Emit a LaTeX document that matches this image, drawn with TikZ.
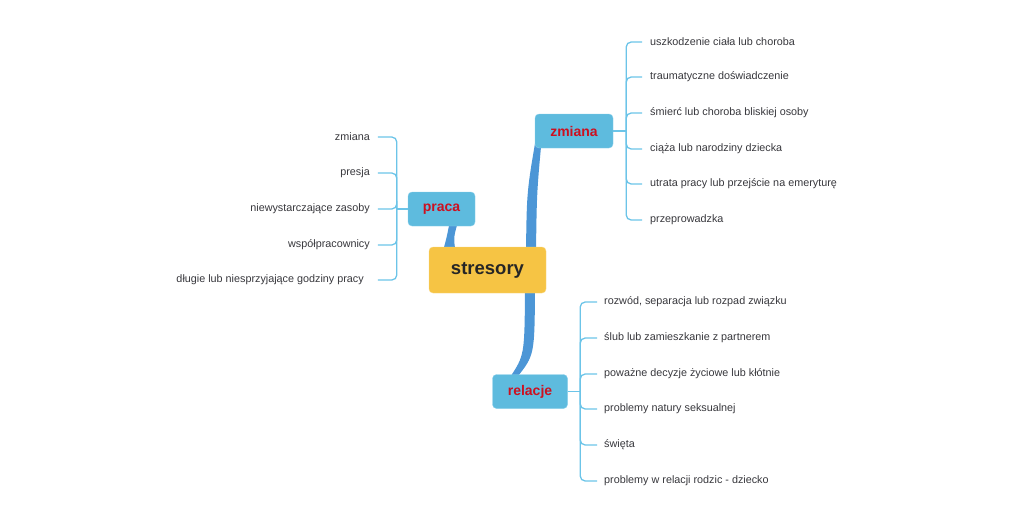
\documentclass[tikz,border=0pt]{standalone}
\usepackage{fontspec}
\setmainfont{Liberation Sans}
\usetikzlibrary{backgrounds}
\definecolor{boxblue}{RGB}{94,187,222}
\definecolor{boxedge}{RGB}{135,206,234}
\definecolor{trunkblue}{RGB}{76,150,214}
\definecolor{leafblue}{RGB}{108,196,232}
\definecolor{sunyellow}{RGB}{246,196,68}
\definecolor{topicred}{RGB}{204,16,32}
\definecolor{leafgray}{RGB}{55,55,60}
\tikzset{
  root/.style={rectangle, rounded corners=4pt, fill=sunyellow, draw=sunyellow!70!white,
               minimum width=117pt, minimum height=46pt, text=black!85,
               font=\fontsize{18.5}{20}\selectfont\bfseries},
  topic/.style={rectangle, rounded corners=4pt, fill=boxblue, draw=boxedge,
                minimum height=34pt, text=topicred, font=\fontsize{14}{16}\selectfont\bfseries},
  leaf/.style={inner sep=0pt, text=leafgray, font=\fontsize{10.8}{12}\selectfont},
  trunk/.style={fill=trunkblue},
  bracket/.style={draw=leafblue, line width=1.3pt, rounded corners=5pt},
}

\begin{document}
\begin{tikzpicture}[x=1pt,y=-1pt]
\useasboundingbox (0,0) rectangle (1024,523);

% main topic and its three branches
\node[root] (stresory) at (487.5,270) {stresory};
\node[topic, minimum width=78pt] (zmiana) at (574,131) {zmiana};
\node[topic, minimum width=67pt] (praca) at (441.5,209) {praca};
\node[topic, minimum width=75pt] (relacje) at (530,391.5) {relacje};

\begin{scope}[on background layer]
\fill[trunk] ([xshift=38.5,yshift=-4]stresory.north)
  .. controls ([xshift=-8,yshift=-60]zmiana.west) .. ([xshift=2,yshift=-2]zmiana.west)
  -- ([xshift=8,yshift=3]zmiana.west)
  .. controls ([xshift=2,yshift=-60]zmiana.west) .. ([xshift=48.5,yshift=-4]stresory.north) -- cycle;
\fill[trunk] ([xshift=-44.5,yshift=-4]stresory.north)
  .. controls ([xshift=5,yshift=-12]praca.south) .. ([xshift=8,yshift=3]praca.south)
  -- ([xshift=16,yshift=3]praca.south)
  .. controls ([xshift=12,yshift=-12]praca.south) .. ([xshift=-32,yshift=-4]stresory.north) -- cycle;
\fill[trunk] ([xshift=37.5,yshift=4]stresory.south)
  .. controls ([xshift=37,yshift=-62]stresory.south) .. ([xshift=-20,yshift=-3]relacje.north)
  -- ([xshift=-13,yshift=-3]relacje.north)
  .. controls ([xshift=47,yshift=-62]stresory.south) .. ([xshift=47.5,yshift=4]stresory.south) -- cycle;
\end{scope}

% zmiana
\coordinate (zm-b) at ([xshift=13]zmiana.east);
\coordinate (zm-t) at ([xshift=29]zmiana.east);
\foreach \y/\t [count=\i] in {42/uszkodzenie ciała lub choroba, 77/traumatyczne doświadczenie,
    113/śmierć lub choroba bliskiej osoby, 149/ciąża lub narodziny dziecka,
    184/utrata pracy lub przejście na emeryturę, 220/przeprowadzka}
  \node[leaf, anchor=west] (zm-\i) at (650,\y) {\t};
\draw[bracket] (zmiana.east) -- (zm-b);
\foreach \i in {1,...,6}
  \draw[bracket] (zm-b) |- (zm-t |- zm-\i.west);

% praca
\coordinate (pr-b) at ([xshift=-11]praca.west);
\coordinate (pr-t) at ([xshift=-30]praca.west);
\foreach \y/\t [count=\i] in {137/zmiana, 173/presja, 209/niewystarczające zasoby,
    245/współpracownicy}
  \node[leaf, anchor=east] (pr-\i) at (370,\y) {\t};
\node[leaf, anchor=east] (pr-5) at (364,280) {długie lub niesprzyjające godziny pracy};
\draw[bracket] (praca.west) -- (pr-b);
\foreach \i in {1,...,5}
  \draw[bracket] (pr-b) |- (pr-t |- pr-\i.east);

% relacje
\coordinate (re-b) at ([xshift=12.5]relacje.east);
\coordinate (re-t) at ([xshift=29.5]relacje.east);
\foreach \y/\t [count=\i] in {302/{rozwód, separacja lub rozpad związku},
    338/ślub lub zamieszkanie z partnerem, 374/poważne decyzje życiowe lub kłótnie,
    409/problemy natury seksualnej, 445/święta, 481/problemy w relacji rodzic - dziecko}
  \node[leaf, anchor=west] (re-\i) at (604,\y) {\t};
\draw[bracket] (relacje.east) -- (re-b);
\foreach \i in {1,...,6}
  \draw[bracket] (re-b) |- (re-t |- re-\i.west);
\end{tikzpicture}
\end{document}
